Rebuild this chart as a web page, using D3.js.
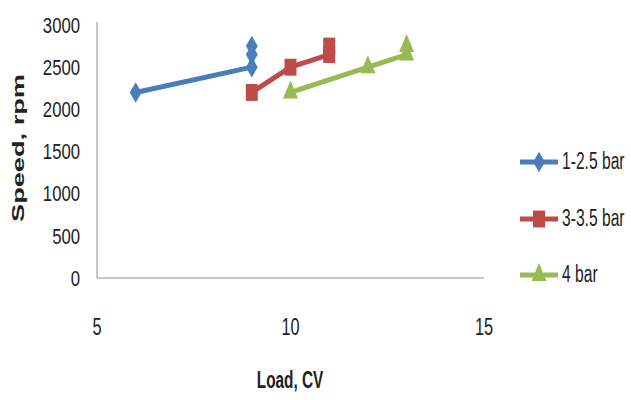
<!DOCTYPE html>
<html>
<head>
<meta charset="utf-8">
<script src="https://cdn.jsdelivr.net/npm/d3@7"></script>
<style>
  html, body { margin: 0; padding: 0; background: #fff; }
  svg { display: block; }
  text { font-family: "Liberation Sans", Arial, sans-serif; fill: #222; }
</style>
</head>
<body>
<svg id="chart" width="631" height="400"></svg>
<script>
// Speed vs load for three pressure ranges
const seriesNames = ["1-2.5 bar", "3-3.5 bar", "4 bar"];
const loads1 = [6, 9, 9, 9];
const speeds1 = [2200, 2500, 2650, 2750];
const loads2 = [9, 10, 11, 11];
const speeds2 = [2200, 2500, 2650, 2750];
const loads3 = [10, 12, 13, 13];
const speeds3 = [2200, 2500, 2650, 2750];
const xTicks = [5, 10, 15];
const yTicks = [0, 500, 1000, 1500, 2000, 2500, 3000];
const colors = ["#4a7ebb", "#be4b48", "#98b954"];
const symbols = [d3.symbolDiamond, d3.symbolSquare, d3.symbolTriangle];
// per-symbol size and stretch
const symbolSize = [150, 169, 130];
const symbolStretch = ["scale(0.9,0.9)", "scale(0.92,1.3)", "scale(0.87,1.2)"];

const series = [
  { name: seriesNames[0], xs: loads1, ys: speeds1 },
  { name: seriesNames[1], xs: loads2, ys: speeds2 },
  { name: seriesNames[2], xs: loads3, ys: speeds3 }
].map((s, i) => ({
  name: s.name,
  idx: i,
  color: colors[i],
  points: s.xs.map((x, j) => ({ x, y: s.ys[j] }))
}));

const svg = d3.select("#chart");
const x = d3.scaleLinear().domain([5, 15]).range([97, 484]);
const y = d3.scaleLinear().domain([0, 3000]).range([278, 25]);

// horizontally condensed text, placed with a transform
function label(parent, px, py, txt, size, k, anchor, bold) {
  return parent.append("text")
    .attr("transform", `translate(${px},${py}) scale(${k},1)`)
    .attr("text-anchor", anchor)
    .attr("dominant-baseline", "middle")
    .attr("font-size", size)
    .attr("font-weight", bold ? "bold" : "normal")
    .text(txt);
}

// axis lines
svg.append("line").attr("x1", x(5)).attr("x2", x(15)).attr("y1", y(0)).attr("y2", y(0))
  .attr("stroke", "#8c8c8c").attr("stroke-width", 1);
svg.append("line").attr("x1", x(5)).attr("x2", x(5)).attr("y1", y(0)).attr("y2", y(3000) - 3)
  .attr("stroke", "#8c8c8c").attr("stroke-width", 1);

// y tick labels
const gy = svg.append("g");
yTicks.forEach(t => label(gy, 80, y(t) + 2, String(t), 22, 0.76, "end", false));

// x tick labels
const gx = svg.append("g");
xTicks.forEach(t => label(gx, x(t), 329, String(t), 24, 0.68, "middle", false));

// axis titles
label(svg, 290, 382, "Load, CV", 24, 0.64, "middle", true);

svg.append("text")
  .attr("transform", "translate(24,148) rotate(-90)")
  .attr("text-anchor", "middle").attr("font-weight", "bold")
  .attr("font-family", "DejaVu Sans, sans-serif")
  .attr("font-size", 16)
  .attr("textLength", 148).attr("lengthAdjust", "spacingAndGlyphs")
  .text("Speed, rpm");

const line = d3.line().x(d => x(d.x)).y(d => y(d.y));

function marker(sel, s) {
  sel.attr("d", d3.symbol().type(symbols[s.idx]).size(symbolSize[s.idx])())
    .attr("fill", s.color);
}

series.forEach(s => {
  svg.append("path").datum(s.points)
    .attr("d", line).attr("fill", "none")
    .attr("stroke", s.color).attr("stroke-width", 5)
    .attr("stroke-linejoin", "round");
  svg.append("g").selectAll("path").data(s.points).join("path")
    .attr("transform", d => `translate(${x(d.x)},${y(d.y)}) ${symbolStretch[s.idx]}`)
    .call(marker, s);
});

// legend
const legendY = [162, 219, 275];
series.forEach((s, i) => {
  const g = svg.append("g").attr("transform", `translate(520,${legendY[i]})`);
  g.append("line").attr("x1", 0).attr("x2", 38).attr("y1", 0).attr("y2", 0)
    .attr("stroke", s.color).attr("stroke-width", 5);
  g.append("path").attr("transform", `translate(19,0) ${symbolStretch[i]}`).call(marker, s);
  label(g, 42, 1, s.name, 23, 0.68, "start", false);
});
</script>
</body>
</html>
